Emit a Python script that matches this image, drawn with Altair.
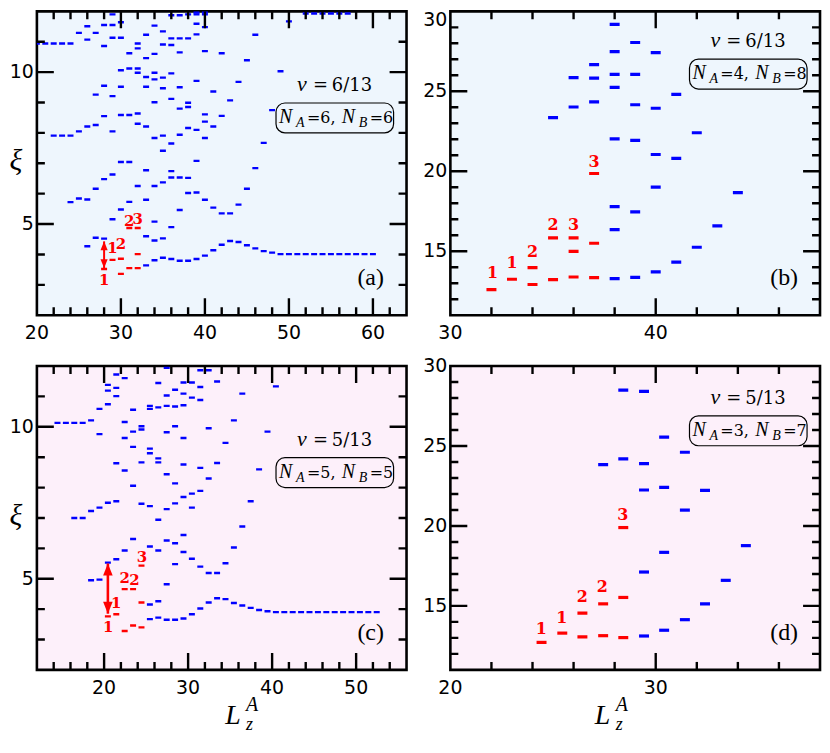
import altair as alt
import pandas as pd

# ---------------- data ----------------
# panel (a): nu = 6/13, N_A = 6, N_B = 6   -> (L_z^A, xi)
a_blue = [
    (20, 10.94), (21, 10.94),
    (22, 10.94), (22, 7.91),
    (23, 10.94), (23, 7.91),
    (24, 10.94), (24, 7.91), (24, 5.72),
    (25, 11.29), (25, 8.05), (25, 5.84),
    (26, 11.51), (26, 11.07), (26, 8.21), (26, 5.81), (26, 4.27),
    (27, 11.29), (27, 9.26), (27, 8.26), (27, 6.16), (27, 4.55),
    (28, 11.55), (28, 10.86), (28, 9.55), (28, 8.55), (28, 6.48), (28, 4.52),
    (29, 11.90), (29, 11.55), (29, 11.13), (29, 9.21), (29, 8.05), (29, 6.63), (29, 5.16),
    (30, 11.64), (30, 11.13), (30, 10.06), (30, 9.52), (30, 8.59), (30, 7.04), (30, 5.48),
    (31, 10.62), (31, 10.12), (31, 8.59), (31, 7.04), (31, 5.73),
    (32, 10.94), (32, 10.78), (32, 10.12), (32, 9.98), (32, 8.64), (32, 8.30), (32, 6.25),
    (33, 11.23), (33, 10.46), (33, 9.84), (33, 9.52), (33, 8.21), (33, 6.77), (33, 5.80), (33, 4.60), (33, 3.64),
    (34, 11.53), (34, 10.60), (34, 9.98), (34, 9.76), (34, 9.01), (34, 7.83), (34, 6.25), (34, 5.08), (34, 4.46), (34, 3.81),
    (35, 11.34), (35, 10.91), (35, 9.82), (35, 9.47), (35, 7.91), (35, 7.41), (35, 6.37), (35, 4.53), (35, 3.89),
    (36, 11.87), (36, 11.11), (36, 10.89), (36, 9.96), (36, 9.12), (36, 7.65), (36, 6.74), (36, 6.53), (36, 4.90), (36, 3.85),
    (37, 11.87), (37, 11.11), (37, 10.65), (37, 9.50), (37, 8.80), (37, 7.94), (37, 6.53), (37, 5.46), (37, 3.79),
    (38, 11.90), (38, 11.11), (38, 8.99), (38, 8.85), (38, 8.16), (38, 6.52), (38, 6.02), (38, 3.79),
    (39, 11.96), (39, 11.90), (39, 11.59), (39, 11.24), (39, 9.71), (39, 8.10), (39, 7.08), (39, 6.04), (39, 3.85),
    (40, 11.96), (40, 11.90), (40, 11.48), (40, 10.69), (40, 8.61), (40, 8.37), (40, 7.83), (40, 5.80), (40, 3.96),
    (41, 9.36), (41, 8.21), (41, 5.54), (41, 4.14),
    (42, 10.62), (42, 8.56), (42, 5.35), (42, 4.32),
    (43, 9.07), (43, 5.35), (43, 4.44),
    (44, 9.68), (44, 5.64), (44, 4.41),
    (45, 10.39), (45, 6.16), (45, 4.30),
    (46, 11.23), (46, 6.84), (46, 4.20),
    (47, 7.67), (47, 4.11),
    (48, 8.75), (48, 4.06),
    (49, 10.03), (49, 4.01),
    (50, 11.67), (50, 4.01),
    (51, 4.01),
    (52, 11.93), (52, 4.01),
    (53, 11.93), (53, 4.01),
    (54, 11.93), (54, 4.01),
    (55, 11.93), (55, 4.01),
    (56, 11.93), (56, 4.01),
    (57, 11.93), (57, 4.01),
    (58, 4.01), (59, 4.01), (60, 4.01),
]
a_red = [(28, 3.52), (30, 3.36), (31, 3.55), (32, 3.55),
         (29, 3.82), (30, 3.86), (32, 4.01), (31, 4.87), (32, 4.87)]
a_labels = [(28.0, 3.17, "1"), (29.0, 4.20, "1"), (30.0, 4.33, "2"),
            (31.0, 5.11, "2"), (32.0, 5.16, "3")]
a_arrow = (28.0, 3.55, 4.43)

# panel (b): nu = 6/13, N_A = 4, N_B = 8
b_blue = [
    (35, 23.35),
    (36, 25.86), (36, 24.02),
    (37, 26.67), (37, 25.82), (37, 24.34),
    (38, 29.19), (38, 27.48), (38, 26.06), (38, 25.25), (38, 22.03), (38, 17.79), (38, 16.35), (38, 13.29),
    (39, 28.05), (39, 26.06), (39, 24.16), (39, 21.93), (39, 17.46), (39, 13.37),
    (40, 27.42), (40, 23.94), (40, 21.05), (40, 19.01), (40, 13.71),
    (41, 24.81), (41, 20.81), (41, 14.32),
    (42, 22.41), (42, 15.25),
    (43, 16.59),
    (44, 18.66),
]
b_red = [(32, 12.60), (33, 13.25), (34, 13.98), (34, 12.92), (35, 15.84), (35, 13.23),
         (36, 15.84), (36, 14.99), (36, 13.39), (37, 19.86), (37, 15.50), (37, 13.35)]
b_labels = [(32.05, 13.63, "1"), (33.0, 14.24, "1"), (34.0, 14.95, "2"),
            (35.0, 16.65, "2"), (36.0, 16.65, "3"), (37.0, 20.55, "3")]

# panel (c): nu = 5/13, N_A = 5, N_B = 5
c_blue = [
    (14.45, 10.13), (15.45, 10.13),
    (16.45, 10.13), (16.45, 7.00),
    (17.45, 10.13), (17.45, 7.00),
    (18.45, 10.21), (18.45, 7.23), (18.45, 4.95),
    (19.45, 10.59), (19.45, 9.76), (19.45, 7.34), (19.45, 4.97),
    (20.45, 11.38), (20.45, 11.19), (20.45, 10.74), (20.45, 7.50), (20.45, 5.53),
    (21.45, 11.72), (21.45, 11.28), (21.45, 11.01), (21.45, 8.80), (21.45, 7.55), (21.45, 5.64),
    (22.45, 11.60), (22.45, 10.16), (22.45, 9.63), (22.45, 8.56), (22.45, 5.93),
    (23.45, 10.56), (23.45, 9.84), (23.45, 9.34), (23.45, 8.06), (23.45, 6.31),
    (24.45, 10.02), (24.45, 9.91), (24.45, 8.83), (24.45, 7.47),
    (25.45, 10.69), (25.45, 10.59), (25.45, 9.28), (25.45, 9.13), (25.45, 7.39), (25.45, 6.06), (25.45, 4.15), (25.45, 3.67),
    (26.45, 11.44), (26.45, 10.64), (26.45, 8.96), (26.45, 8.83), (26.45, 6.94), (26.45, 5.93), (26.45, 4.26), (26.45, 3.72),
    (27.45, 11.94), (27.45, 11.03), (27.45, 10.69), (27.45, 9.82), (27.45, 8.44), (27.45, 7.29), (27.45, 6.26), (27.45, 4.82), (27.45, 3.65),
    (28.45, 11.22), (28.45, 10.67), (28.45, 10.02), (28.45, 8.14), (28.45, 7.48), (28.45, 6.17), (28.45, 5.48), (28.45, 3.65),
    (29.45, 11.46), (29.45, 11.09), (29.45, 10.71), (29.45, 9.63), (29.45, 8.76), (29.45, 7.69), (29.45, 6.44), (29.45, 5.88), (29.45, 3.69),
    (30.45, 11.46), (30.45, 10.96), (30.45, 7.80), (30.45, 7.34), (30.45, 5.66), (30.45, 3.83),
    (31.45, 11.86), (31.45, 11.31), (31.45, 10.88), (31.45, 8.65), (31.45, 7.89), (31.45, 5.40), (31.45, 4.02),
    (32.45, 11.86), (32.45, 9.95), (32.45, 8.30), (32.45, 5.19), (32.45, 4.22),
    (33.45, 11.49), (33.45, 8.81), (33.45, 5.19), (33.45, 4.36),
    (34.45, 9.47), (34.45, 5.51), (34.45, 4.33),
    (35.45, 10.21), (35.45, 6.03), (35.45, 4.20),
    (36.45, 11.09), (36.45, 6.72), (36.45, 4.12),
    (37.45, 7.55), (37.45, 4.04),
    (38.45, 8.60), (38.45, 3.97),
    (39.45, 9.84), (39.45, 3.93),
    (40.45, 11.33), (40.45, 3.90),
    (41.45, 3.90), (42.45, 3.90), (43.45, 3.90), (44.45, 3.90), (45.45, 3.90), (46.45, 3.90),
    (47.45, 3.90), (48.45, 3.90), (49.45, 3.90), (50.45, 3.90), (51.45, 3.90), (52.45, 3.90),
]
c_red = [(20.45, 3.76), (21.45, 3.83), (22.45, 3.28), (22.45, 4.66),
         (23.45, 3.46), (23.45, 4.66), (24.45, 3.40), (24.45, 4.22), (24.45, 5.43)]
c_labels = [(20.5, 3.40, "1"), (21.45, 4.20, "1"), (22.45, 5.01, "2"),
            (23.6, 4.96, "2"), (24.5, 5.71, "3")]
c_arrow = (20.45, 3.85, 5.50)

# panel (d): nu = 5/13, N_A = 3, N_B = 7
d_blue = [
    (27.44, 23.84),
    (28.42, 28.49), (28.42, 24.19),
    (29.43, 28.41), (29.43, 23.90), (29.43, 22.25), (29.43, 17.12), (29.43, 13.12),
    (30.41, 25.55), (30.41, 22.41), (30.41, 18.35), (30.41, 13.48),
    (31.42, 24.61), (31.42, 20.99), (31.42, 14.14),
    (32.40, 22.23), (32.40, 15.13),
    (33.41, 16.60),
    (34.39, 18.77),
]
d_red = [(24.44, 12.72), (25.45, 13.30), (26.43, 14.55), (26.43, 13.06),
         (27.44, 15.13), (27.44, 13.14), (28.42, 19.90), (28.42, 15.53), (28.42, 13.02)]
d_labels = [(24.43, 13.56, "1"), (25.43, 14.23, "1"), (26.42, 15.57, "2"),
            (27.4, 16.2, "2"), (28.4, 20.7, "3")]

# axis ticks / labels
a_xlab = [20, 30, 40, 50, 60]
a_xmaj = [30, 40, 50, 60]
a_xmin = [22, 24, 26, 28, 32, 34, 36, 38, 42, 44, 46, 48, 52, 54, 56, 58, 62]
c_xlab = [20, 30, 40, 50]
c_xmaj = [20, 30, 40, 50]
c_xmin = [14, 16, 18, 22, 24, 26, 28, 32, 34, 36, 38, 42, 44, 46, 48, 52, 54]
ac_ylab = [5, 10]
ac_ymaj = [5, 10]
ac_ymin = [3, 4, 6, 7, 8, 9, 11]
b_xlab = [30, 40]
b_xmaj = [40]
b_xmin = [32, 34, 36, 38, 42, 44, 46]
d_xlab = [20, 30]
d_xmaj = [30]
d_xmin = [22, 24, 26, 28, 32, 34, 36]
bd_ylab = [15, 20, 25, 30]
bd_ymaj = [15, 20, 25]
bd_ymin = [12, 13, 14, 16, 17, 18, 19, 21, 22, 23, 24, 26, 27, 28, 29]

# ---------------- styling ----------------
W, H = 371, 305
BLUE, RED = "#0000ff", "#ff0000"
TOP_BG, BOT_BG = "#eef6fd", "#fdf0fa"
SANS = "DejaVu Sans"
SERIF = "DejaVu Serif"
ITAL = "Liberation Serif"
MAJ, MINT = 17, 8
TW = 2.4
ONE = pd.DataFrame({"k": [0]})


def txt(s, x, y, size, font=SERIF, style="normal", weight="normal", align="left", color="black"):
    return alt.Chart(ONE).mark_text(
        text=s, align=align, baseline="alphabetic", font=font, fontSize=size,
        fontStyle=style, fontWeight=weight, color=color
    ).encode(x=alt.value(x), y=alt.value(y))


def panel(blue, red, labels, arrow, xdom, ydom, xlab, xmaj, xmin, ylab, ymaj, ymin,
          bg, dash, lab_size, head, nu, na, nb, box_top, tag, left, bottom, ytop_flush, ltitle):
    xs = alt.Scale(domain=xdom, nice=False, zero=False)
    ys = alt.Scale(domain=ydom, nice=False, zero=False)
    x0, x1 = xdom
    y0, y1 = ydom
    ux = (x1 - x0) / W   # data units per pixel
    uy = (y1 - y0) / H

    # one rect layer: level dashes + inward frame ticks (all from the lists above)
    rows = []
    for kind, pts in (("b", blue), ("r", red)):
        for L, xi in pts:
            rows.append((L - dash[0] / 2 * ux, L + dash[0] / 2 * ux,
                         xi - dash[1] / 2 * uy, xi + dash[1] / 2 * uy, kind))
    for vals, ln in ((xmaj, MAJ), (xmin, MINT)):
        for v in vals:
            rows.append((v - TW / 2 * ux, v + TW / 2 * ux, y0, y0 + ln * uy, "t"))
            rows.append((v - TW / 2 * ux, v + TW / 2 * ux, y1 - ln * uy, y1, "t"))
    for vals, ln in ((ymaj, MAJ), (ymin, MINT)):
        for v in vals:
            rows.append((x0, x0 + ln * ux, v - TW / 2 * uy, v + TW / 2 * uy, "t"))
            rows.append((x1 - ln * ux, x1, v - TW / 2 * uy, v + TW / 2 * uy, "t"))
    df = pd.DataFrame(rows, columns=["xa", "xb", "ya", "yb", "kind"])

    main = alt.Chart(df).mark_rect(opacity=1, clip=True).encode(
        x=alt.X("xa:Q", scale=xs, axis=None),
        x2="xb:Q",
        y=alt.Y("ya:Q", scale=ys, axis=None),
        y2="yb:Q",
        color=alt.Color("kind:N", scale=alt.Scale(domain=["b", "r", "t"], range=[BLUE, RED, "black"]),
                        legend=None),
    )
    layers = [main]

    # tick labels (drawn as text through the same scales)
    layers.append(
        alt.Chart(pd.DataFrame({"v": xlab})).mark_text(
            baseline="top", align="center", font=SANS, fontSize=19, color="black"
        ).encode(x=alt.X("v:Q", scale=xs, axis=None), y=alt.value(H + 9),
                 text=alt.Text("v:Q", format="d"))
    )
    ymid = [v for v in ylab if not (ytop_flush and v == ydom[1])]
    layers.append(
        alt.Chart(pd.DataFrame({"v": ymid})).mark_text(
            baseline="middle", align="right", font=SANS, fontSize=19, color="black"
        ).encode(y=alt.Y("v:Q", scale=ys, axis=None), x=alt.value(-3),
                 text=alt.Text("v:Q", format="d"))
    )
    if ytop_flush:
        layers.append(
            alt.Chart(pd.DataFrame({"v": [v for v in ylab if v == ydom[1]]})).mark_text(
                baseline="top", align="right", font=SANS, fontSize=19, color="black"
            ).encode(y=alt.Y("v:Q", scale=ys, axis=None), x=alt.value(-3),
                     text=alt.Text("v:Q", format="d"))
        )
    if left:
        layers.append(txt("ξ", -21, H / 2 + 7, 30, ITAL, "italic", align="center"))

    lab = alt.Chart(pd.DataFrame(labels, columns=["L", "xi", "t"])).mark_text(
        font=SERIF, fontWeight="bold", fontSize=lab_size, color=RED, baseline="middle", align="center"
    ).encode(x=alt.X("L:Q", scale=xs, axis=None), y=alt.Y("xi:Q", scale=ys, axis=None), text="t:N")
    layers.append(lab)

    if arrow is not None:
        adf = pd.DataFrame([arrow], columns=["L", "lo", "hi"])
        layers.append(alt.Chart(adf).mark_rule(color=RED, strokeWidth=head[1]).encode(
            x=alt.X("L:Q", scale=xs, axis=None), y=alt.Y("lo:Q", scale=ys, axis=None), y2="hi:Q"))
        layers.append(alt.Chart(adf).mark_point(
            shape="M0,0L-0.4,1L0.4,1Z", filled=True, color=RED, opacity=1, size=head[0], strokeWidth=0
        ).encode(x=alt.X("L:Q", scale=xs, axis=None), y=alt.Y("hi:Q", scale=ys, axis=None)))
        layers.append(alt.Chart(adf).mark_point(
            shape="M0,0L-0.4,-1L0.4,-1Z", filled=True, color=RED, opacity=1, size=head[0], strokeWidth=0
        ).encode(x=alt.X("L:Q", scale=xs, axis=None), y=alt.Y("lo:Q", scale=ys, axis=None)))

    # nu annotation
    bx = W - 131
    nb_y = box_top - 12
    layers += [
        txt("ν", bx + 21, nb_y, 22, ITAL, "italic"),
        txt("=", bx + 37, nb_y, 18, SERIF),
        txt(nu, bx + 56, nb_y, 18, SERIF),
    ]
    # rounded box with N_A, N_B
    layers.append(alt.Chart(ONE).mark_rect(
        fillOpacity=0, stroke="black", strokeWidth=1.2, cornerRadius=9
    ).encode(x=alt.value(bx), x2=alt.value(bx + 118), y=alt.value(box_top), y2=alt.value(box_top + 30)))
    base = box_top + 20
    layers += [
        txt("N", bx + 3, base, 20, ITAL, "italic"),
        txt("A", bx + 20, base + 4, 14, ITAL, "italic"),
        txt("=" + na + ",", bx + 31, base, 16, SERIF),
        txt("N", bx + 66, base, 20, ITAL, "italic"),
        txt("B", bx + 83, base + 4, 14, ITAL, "italic"),
        txt("=" + nb, bx + 94, base, 16, SERIF),
    ]
    layers.append(txt(tag, W - 36, H - 30, 24, ITAL, align="center"))
    if bottom:
        lx = ltitle
        ly = H + 54
        layers += [
            txt("L", lx, ly, 28, ITAL, "italic"),
            txt("A", lx + 21, ly - 13, 20, ITAL, "italic"),
            txt("z", lx + 21, ly + 6, 18, ITAL, "italic"),
        ]

    return alt.layer(*layers).properties(
        width=W, height=H,
        view=alt.ViewBackground(fill=bg, stroke="black", strokeWidth=2.6),
    )


pa = panel(a_blue, a_red, a_labels, a_arrow, [20, 64], [2, 12], a_xlab, a_xmaj, a_xmin,
           ac_ylab, ac_ymaj, ac_ymin, TOP_BG, (6, 2.4), 15, (324, 2.0),
           "6/13", "6", "6", 92, "(a)", True, False, False, None)
pb = panel(b_blue, b_red, b_labels, None, [30, 48], [11, 30], b_xlab, b_xmaj, b_xmin,
           bd_ylab, bd_ymaj, bd_ymin, TOP_BG, (10, 3.2), 16, None,
           "6/13", "4", "8", 48, "(b)", False, False, True, None)
pc = panel(c_blue, c_red, c_labels, c_arrow, [12, 56], [2, 12], c_xlab, c_xmaj, c_xmin,
           ac_ylab, ac_ymaj, ac_ymin, BOT_BG, (6, 2.4), 15, (576, 2.6),
           "5/13", "5", "5", 92, "(c)", True, True, False, 189)
pd_ = panel(d_blue, d_red, d_labels, None, [20, 38], [11, 30], d_xlab, d_xmaj, d_xmin,
            bd_ylab, bd_ymaj, bd_ymin, BOT_BG, (10, 3.2), 16, None,
            "5/13", "3", "7", 50, "(d)", False, True, False, 145)

top = alt.hconcat(pa, pb, spacing=13)
bot = alt.hconcat(pc, pd_, spacing=13)
chart = alt.vconcat(top, bot, spacing=10, padding=0).configure(background="white")

chart.save("out.html", embed_options={"renderer": "svg", "actions": False})
